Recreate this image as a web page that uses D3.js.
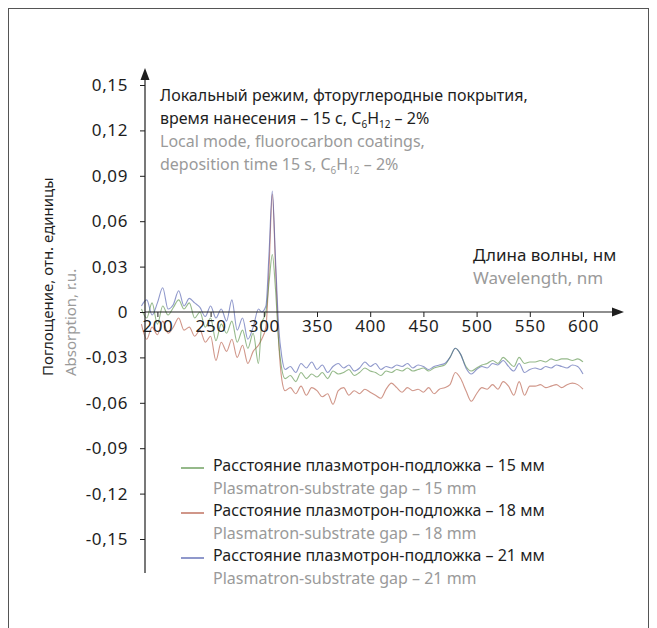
<!DOCTYPE html>
<html><head><meta charset="utf-8">
<script src="https://cdn.jsdelivr.net/npm/d3@7"></script>
<style>
html,body{margin:0;padding:0;background:#fff;}
svg{display:block;}
text{font-family:"Noto Sans","Open Sans",sans-serif;}
</style></head>
<body>
<svg id="chart" width="657" height="628"></svg>
<script>
const wavelengths = [185,190,195,200,205,210,215,220,225,230,235,240,245,250,255,260,265,270,275,280,285,290,295,
  298,302,305,308,311,314,317,320,
  325,330,335,340,345,350,355,360,365,370,375,380,385,390,395,400,405,410,415,420,425,430,435,440,445,450,455,460,465,470,475,480,485,490,495,500,505,510,515,520,525,530,535,540,545,550,555,560,565,570,575,580,585,590,595,600];

const gap15 = [0.002,-0.004,0.006,-0.008,0.004,-0.002,0.003,0.008,0.002,0.006,-0.004,0.000,-0.010,-0.004,-0.019,-0.008,-0.014,-0.006,-0.020,-0.012,-0.024,-0.014,-0.034,
  -0.008,0.000,0.020,0.038,0.015,-0.020,-0.038,-0.044,
  -0.042,-0.046,-0.040,-0.044,-0.041,-0.043,-0.040,-0.044,-0.039,-0.041,-0.040,-0.038,-0.042,-0.040,-0.037,-0.039,-0.040,-0.042,-0.039,-0.040,-0.038,-0.039,-0.037,-0.039,-0.038,-0.037,-0.039,-0.037,-0.036,-0.035,-0.030,-0.024,-0.028,-0.036,-0.039,-0.037,-0.035,-0.034,-0.032,-0.034,-0.030,-0.033,-0.036,-0.030,-0.034,-0.033,-0.033,-0.032,-0.033,-0.031,-0.032,-0.031,-0.031,-0.032,-0.031,-0.033];

const gap18 = [-0.008,-0.018,-0.010,-0.015,-0.006,-0.014,-0.010,-0.004,-0.012,-0.010,-0.016,-0.012,-0.020,-0.016,-0.032,-0.020,-0.026,-0.018,-0.030,-0.022,-0.034,-0.026,-0.022,
  -0.018,-0.010,0.030,0.078,0.030,-0.020,-0.045,-0.052,
  -0.050,-0.054,-0.049,-0.055,-0.050,-0.052,-0.056,-0.054,-0.061,-0.052,-0.050,-0.055,-0.052,-0.054,-0.051,-0.053,-0.055,-0.057,-0.051,-0.047,-0.050,-0.053,-0.050,-0.052,-0.051,-0.053,-0.050,-0.054,-0.051,-0.050,-0.048,-0.040,-0.044,-0.052,-0.059,-0.054,-0.050,-0.051,-0.048,-0.051,-0.046,-0.049,-0.055,-0.046,-0.055,-0.049,-0.049,-0.048,-0.050,-0.049,-0.048,-0.050,-0.048,-0.047,-0.048,-0.051];

const gap21 = [0.004,0.008,-0.002,0.006,0.016,0.002,0.005,0.014,0.004,0.009,0.006,0.003,-0.003,0.004,-0.004,0.002,-0.006,0.008,-0.012,-0.004,-0.018,-0.010,0.002,
  0.000,0.004,0.040,0.080,0.035,-0.010,-0.030,-0.038,
  -0.036,-0.040,-0.034,-0.037,-0.033,-0.038,-0.035,-0.040,-0.036,-0.034,-0.037,-0.035,-0.039,-0.037,-0.033,-0.036,-0.034,-0.038,-0.036,-0.037,-0.035,-0.036,-0.034,-0.037,-0.035,-0.036,-0.038,-0.036,-0.035,-0.034,-0.030,-0.024,-0.028,-0.037,-0.041,-0.038,-0.036,-0.037,-0.034,-0.035,-0.032,-0.036,-0.039,-0.034,-0.040,-0.038,-0.037,-0.038,-0.036,-0.037,-0.035,-0.036,-0.037,-0.035,-0.036,-0.041];

const xTicks = [200,250,300,350,400,450,500,550,600];
const yTicks = [0.15,0.12,0.09,0.06,0.03,0,-0.03,-0.06,-0.09,-0.12,-0.15];

const seriesNames = ["Расстояние плазмотрон-подложка – 15 мм","Расстояние плазмотрон-подложка – 18 мм","Расстояние плазмотрон-подложка – 21 мм"];
const seriesNamesEn = ["Plasmatron-substrate gap – 15 mm","Plasmatron-substrate gap – 18 mm","Plasmatron-substrate gap – 21 mm"];
const seriesColors = ["#4f8a3c","#b0503a","#4453a8"];
const seriesValues = [gap15, gap18, gap21];

const svg = d3.select("#chart");
const grey = "#9a9a9a";
const ink = "#1e1e1e";

// frame
svg.append("rect").attr("x",8.5).attr("y",8.5).attr("width",640).attr("height",660)
  .attr("fill","none").attr("stroke","#555").attr("stroke-width",1);

const x = d3.scaleLinear().domain([200,600]).range([157.4,583]);
const y = d3.scaleLinear().domain([-0.15,0.15]).range([539,85]);
const axisX = 145, axisY = y(0);

// lines
const line = d3.line().x((d,i)=>x(wavelengths[i])).y(d=>y(d)).curve(d3.curveMonotoneX);
[1,0,2].forEach(k=>{
  svg.append("path").datum(seriesValues[k]).attr("d",line)
    .attr("fill","none").attr("stroke",seriesColors[k]).attr("stroke-width",1.1)
    .attr("stroke-opacity",0.6).attr("stroke-linejoin","round");
});

// y axis
const gy = svg.append("g").attr("transform",`translate(${axisX},0)`)
  .call(d3.axisLeft(y).tickValues(yTicks).tickSize(5).tickPadding(12)
    .tickFormat(d=> d===0 ? "0" : (d<0?"-":"") + d3.format(".2f")(Math.abs(d)).replace(".",",")));
gy.select(".domain").remove();
gy.selectAll("line").attr("stroke",ink);
gy.selectAll("text").attr("font-size",17).attr("letter-spacing",0.6).attr("fill",ink).attr("font-family","Noto Sans");
svg.append("line").attr("x1",axisX).attr("x2",axisX).attr("y1",76).attr("y2",573).attr("stroke",ink).attr("stroke-width",1.2);
svg.append("path").attr("d",`M${axisX},68 L${axisX-4.5},80 L${axisX+4.5},80 Z`).attr("fill",ink);

// x axis
const gx = svg.append("g").attr("transform",`translate(0,${axisY})`)
  .call(d3.axisBottom(x).tickValues(xTicks).tickSize(5).tickPadding(3).tickFormat(d3.format("d")));
gx.select(".domain").remove();
gx.selectAll("line").attr("stroke",ink);
gx.selectAll("text").attr("font-size",17).attr("letter-spacing",0.6).attr("fill",ink).attr("font-family","Noto Sans");
svg.append("line").attr("x1",axisX).attr("x2",616).attr("y1",axisY).attr("y2",axisY).attr("stroke",ink).attr("stroke-width",1.2);
svg.append("path").attr("d",`M624,${axisY} L612,${axisY-4.5} L612,${axisY+4.5} Z`).attr("fill",ink);

// title
const t = svg.append("g").attr("font-size",16);
t.append("text").attr("x",160).attr("y",101).attr("fill",ink).text("Локальный режим, фторуглеродные покрытия,");
function chem(sel, pre){
  sel.append("tspan").text(pre + "C");
  sel.append("tspan").attr("font-size",10).attr("dy",4).text("6");
  sel.append("tspan").attr("dy",-4).text("H");
  sel.append("tspan").attr("font-size",10).attr("dy",4).text("12");
  sel.append("tspan").attr("dy",-4).text(" – 2%");
}
chem(t.append("text").attr("x",160).attr("y",124).attr("fill",ink), "время нанесения – 15 с, ");
t.append("text").attr("x",160).attr("y",147).attr("fill",grey).text("Local mode, fluorocarbon coatings,");
chem(t.append("text").attr("x",160).attr("y",170).attr("fill",grey), "deposition time 15 s, ");

// x label
svg.append("text").attr("x",473).attr("y",261).attr("font-size",17).attr("fill",ink).text("Длина волны, нм");
svg.append("text").attr("x",473).attr("y",284).attr("font-size",17).attr("fill",grey).text("Wavelength, nm");

// y label
svg.append("text").attr("transform","translate(53,376) rotate(-90)").attr("font-size",15).attr("fill",ink).text("Поглощение, отн. единицы");
svg.append("text").attr("transform","translate(76,376) rotate(-90)").attr("font-size",15).attr("fill",grey).text("Absorption, r.u.");

// legend
const legY = [471,516,561];
seriesNames.forEach((n,i)=>{
  svg.append("line").attr("x1",181).attr("x2",204).attr("y1",legY[i]-3).attr("y2",legY[i]-3)
    .attr("stroke",seriesColors[i]).attr("stroke-width",1.2);
  svg.append("text").attr("x",213).attr("y",legY[i]).attr("font-size",16).attr("fill",ink).text(n);
  svg.append("text").attr("x",213).attr("y",legY[i]+23).attr("font-size",16).attr("fill",grey).text(seriesNamesEn[i]);
});
</script>
</body></html>
